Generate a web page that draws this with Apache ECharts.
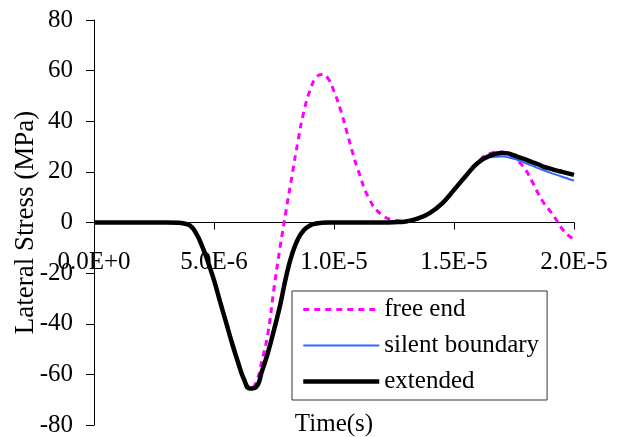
<!DOCTYPE html>
<html>
<head>
<meta charset="utf-8">
<title>Lateral Stress vs Time</title>
<script src="https://cdn.jsdelivr.net/npm/echarts@6/dist/echarts.min.js"></script>
<style>
  html, body { margin: 0; padding: 0; background: #fff; }
  #chart { width: 620px; height: 437px; }
</style>
</head>
<body>
<div id="chart"></div>
<script>
// Time samples in microseconds (axis labels are shown in seconds)
const timeMicros = [
  0, 1, 2, 3, 3.5, 3.75, 4, 4.25, 4.5, 4.75,
  5, 5.25, 5.5, 5.75, 6, 6.25, 6.5, 6.75, 7, 7.25,
  7.5, 7.75, 8, 8.25, 8.5, 8.75, 9, 9.25, 9.5, 9.75,
  10, 10.25, 10.5, 10.75, 11, 11.5, 12, 12.5, 13, 13.5,
  14, 14.5, 15, 15.5, 16, 16.5, 17, 17.25, 17.5, 17.75,
  18, 18.25, 18.5, 18.75, 19, 19.25, 19.5, 19.75, 20
];

// Lateral stress (MPa) for each boundary condition
const freeEnd = [
  0, 0, 0, 0, -0.1, -0.4, -1.2, -4.2, -9.2, -15.6,
  -22.8, -31.2, -39.4, -47.6, -55.2, -62.0, -65.6, -63.2, -54.5, -43.5,
  -26, -10, 4.5, 18.5, 32.2, 44, 52.2, 57.2, 58.5, 56.9,
  51.8, 45.2, 37, 28.5, 20.8, 8.7, 3.0, 1.0, 0.6, 1.6,
  3.8, 7.5, 12.9, 18.6, 24.0, 27.3, 27.9, 27.0, 25.5, 23.5,
  20.6, 16.3, 11.6, 7.6, 4.6, 1.2, -2.4, -5.0, -6.6
];

const silentBoundary = [
  0, 0, 0, 0, -0.1, -0.4, -1.2, -4.2, -9.2, -15.6,
  -22.8, -31.2, -39.4, -47.6, -55.2, -62.0, -65.6, -65.0, -58.7, -51.3,
  -42.4, -32.9, -21.6, -12.6, -6.5, -3.0, -1.2, -0.4, -0.1, 0,
  0, 0, 0, 0, 0, 0, 0, 0.1, 0.4, 1.6,
  3.8, 7.5, 12.9, 18.5, 23.4, 25.8, 26.1, 25.8, 25.2, 24.3,
  23.4, 22.5, 21.5, 20.6, 19.7, 18.9, 18.1, 17.3, 16.6
];

const extended = [
  0, 0, 0, 0, -0.1, -0.4, -1.2, -4.2, -9.2, -15.6,
  -22.8, -31.2, -39.4, -47.6, -55.2, -62.0, -65.6, -65.0, -58.7, -51.3,
  -42.4, -32.9, -21.6, -12.6, -6.5, -3.0, -1.2, -0.4, -0.1, 0,
  0, 0, 0, 0, 0, 0, 0, 0.1, 0.4, 1.6,
  3.8, 7.5, 12.9, 18.5, 23.6, 26.4, 27.5, 27.3, 26.5, 25.6,
  24.8, 23.9, 23.0, 22.0, 21.3, 20.6, 20.0, 19.4, 18.8
];

// Axis ticks
const xTickValues = [0, 5, 10, 15, 20];
const xTickLabels = ['0.0E+0', '5.0E-6', '1.0E-5', '1.5E-5', '2.0E-5'];
const yTickValues = [-80, -60, -40, -20, 0, 20, 40, 60, 80];

const seriesNames = ['free end', 'silent boundary', 'extended'];

const FONT = "'Liberation Serif', 'Times New Roman', serif";

const styles = {
  'free end': { color: '#ff00ff', width: 3, type: [6, 5] },
  'silent boundary': { color: '#3366ff', width: 2, type: 'solid' },
  'extended': { color: '#000000', width: 4.5, type: 'solid' }
};

// Plot area (pixels)
const GRID = { left: 94, right: 46, top: 20, bottom: 12 };
const CHART_H = 437;

function pairs(values) {
  return timeMicros.map((t, i) => [t, values[i]]);
}

function lineSeries(name, values, z) {
  const s = styles[name];
  return {
    name: name,
    type: 'line',
    data: pairs(values),
    smooth: 0.5,
    showSymbol: false,
    symbol: 'none',
    lineStyle: { color: s.color, width: s.width, type: s.type, join: 'round' },
    itemStyle: { color: s.color },
    z: z
  };
}

// The time labels sit just under the zero line, so they are offset
// upwards from the bottom edge of the plot by the zero line's height.
const plotH = CHART_H - GRID.top - GRID.bottom;
const yMin = yTickValues[0], yMax = yTickValues[yTickValues.length - 1];
const zeroFromBottom = plotH * (0 - yMin) / (yMax - yMin);

const chart = echarts.init(document.getElementById('chart'), null, { renderer: 'canvas' });

chart.setOption({
  animation: false,
  backgroundColor: '#fff',
  grid: Object.assign({ containLabel: false, outerBoundsMode: 'none' }, GRID),
  xAxis: {
    type: 'value',
    min: xTickValues[0],
    max: xTickValues[xTickValues.length - 1],
    interval: 5,
    name: 'Time(s)',
    nameLocation: 'middle',
    nameGap: -13,
    nameMoveOverlap: false,
    nameTextStyle: { fontFamily: FONT, fontSize: 25, color: '#000' },
    axisLine: { show: true, onZero: true, lineStyle: { color: '#000', width: 1 } },
    axisTick: { show: true, length: 7, lineStyle: { color: '#000' } },
    axisLabel: {
      margin: 27 - zeroFromBottom,
      fontFamily: FONT, fontSize: 25, color: '#000',
      formatter: (v) => {
        const i = xTickValues.indexOf(Math.round(v * 1000) / 1000);
        return i >= 0 ? xTickLabels[i] : '';
      }
    },
    splitLine: { show: false }
  },
  yAxis: {
    type: 'value',
    min: yMin,
    max: yMax,
    interval: 20,
    name: 'Lateral Stress (MPa)',
    nameLocation: 'middle',
    nameGap: 55,
    nameMoveOverlap: false,
    nameTextStyle: { fontFamily: FONT, fontSize: 27, color: '#000' },
    axisLine: { show: true, lineStyle: { color: '#000', width: 1 } },
    axisTick: { show: true, length: 8, lineStyle: { color: '#000' } },
    axisLabel: { margin: 21, fontFamily: FONT, fontSize: 25, color: '#000' },
    splitLine: { show: false }
  },
  legend: {
    orient: 'vertical',
    left: 292,
    top: 291,
    padding: [6, 8, 6, 9],
    itemGap: 11,
    itemWidth: 76,
    itemHeight: 24,
    backgroundColor: '#fff',
    borderColor: '#333',
    borderWidth: 1,
    borderRadius: 0,
    itemStyle: { opacity: 0 },
    textStyle: { fontFamily: FONT, fontSize: 25, color: '#000' },
    data: seriesNames.map((n) => ({
      name: n,
      lineStyle: { color: styles[n].color, width: styles[n].width, type: styles[n].type }
    }))
  },
  series: [
    lineSeries('free end', freeEnd, 2),
    lineSeries('silent boundary', silentBoundary, 3),
    lineSeries('extended', extended, 4)
  ]
});
</script>
</body>
</html>
